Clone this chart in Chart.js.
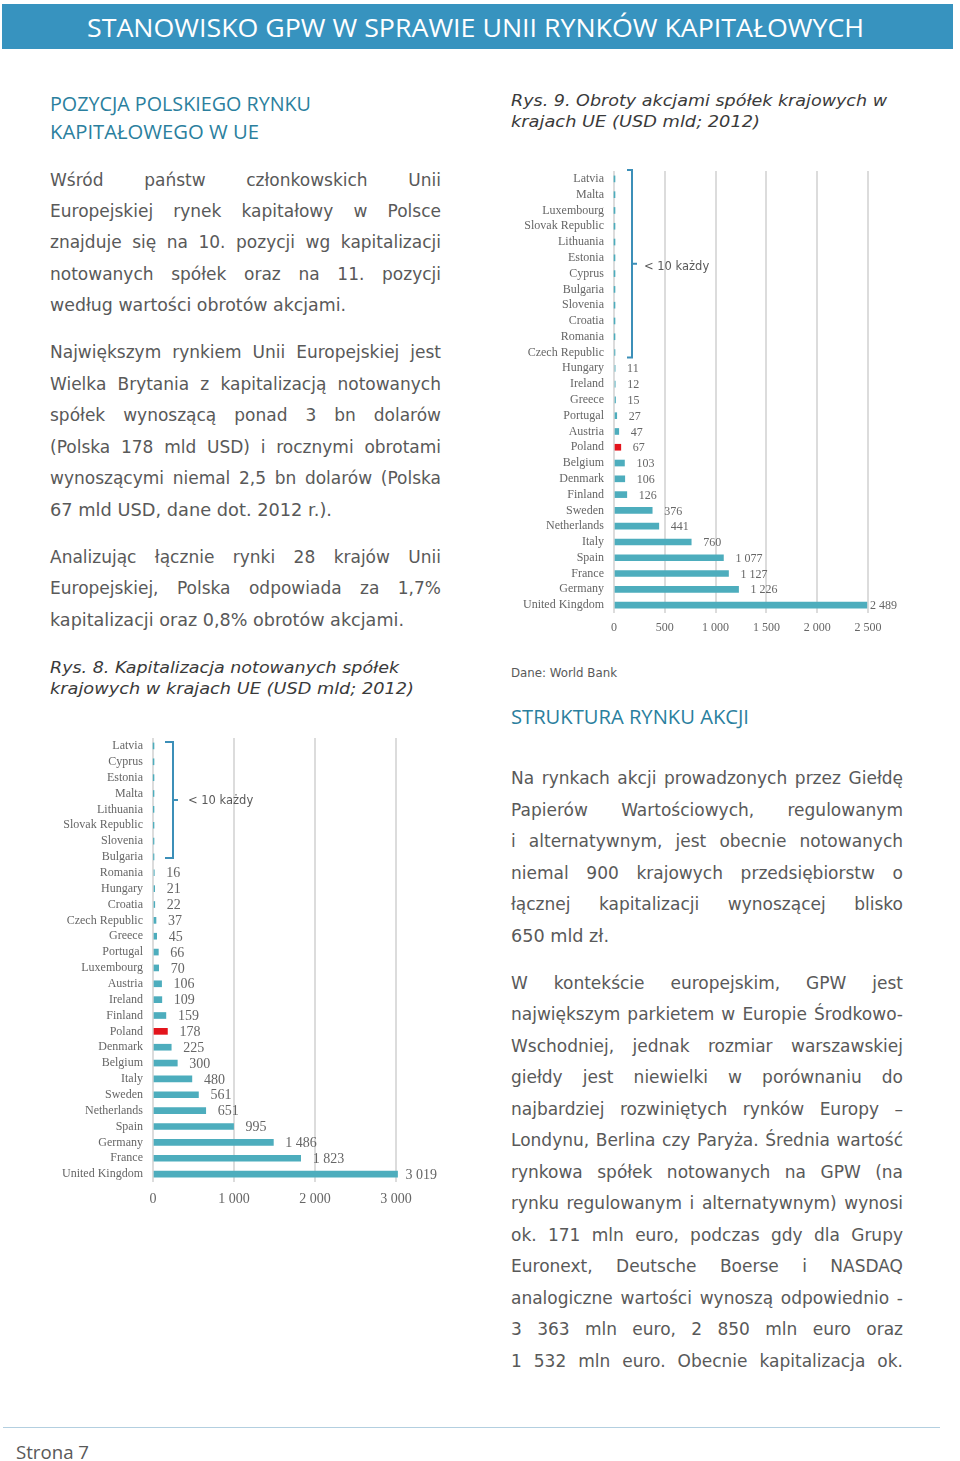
<!DOCTYPE html>
<html lang="pl">
<head>
<meta charset="utf-8">
<title>Stanowisko GPW</title>
<script src="https://cdn.jsdelivr.net/npm/chart.js@4/dist/chart.umd.min.js"></script>
<style>
  body { margin: 0; width: 960px; height: 1461px; position: relative; background: #fff; overflow: hidden; }
  .band { position: absolute; left: 2px; top: 4px; width: 951px; height: 45px; background: #3793bf; }
  .t { position: absolute; white-space: nowrap; line-height: 20px; height: 20px; transform-origin: 0 50%; }
  .title { font: 26px "Open Sans", sans-serif; color: #fff; line-height: 30px; height: 30px; }
  .head { font: 20px "Open Sans", sans-serif; color: #2b7f9e; }
  .body { font: 17px "DejaVu Sans", Verdana, sans-serif; color: #595959; }
  .cap { font: italic 16px "DejaVu Sans", Verdana, sans-serif; color: #3a3a3a; }
  .src { font: 12px "DejaVu Sans", Verdana, sans-serif; color: #595959; }
  .page { font: 18px "Open Sans", sans-serif; color: #595959; }
  .rule { position: absolute; left: 3px; top: 1427px; width: 937px; height: 0; border-top: 1.5px solid #b3cfe0; }
  canvas { position: absolute; }
  #chart9 { left: 515px; top: 165px; }
  #chart8 { left: 55px; top: 730px; }
</style>
</head>
<body>
<div class="band"></div>
<div class="rule"></div>
<canvas id="chart9" width="385" height="475"></canvas>
<canvas id="chart8" width="385" height="480"></canvas>

<script>
// --- data: Rys. 9, obroty akcjami (USD mld, 2012) ---
const turnoverCountries = ['Latvia', 'Malta', 'Luxembourg', 'Slovak Republic', 'Lithuania', 'Estonia',
  'Cyprus', 'Bulgaria', 'Slovenia', 'Croatia', 'Romania', 'Czech Republic', 'Hungary', 'Ireland',
  'Greece', 'Portugal', 'Austria', 'Poland', 'Belgium', 'Denmark', 'Finland', 'Sweden', 'Netherlands',
  'Italy', 'Spain', 'France', 'Germany', 'United Kingdom'];
const turnoverValues = [0.1, 0.1, 0.2, 0.3, 0.3, 0.4, 0.5, 0.6, 0.8, 1, 1.5, 6, 11, 12,
  15, 27, 47, 67, 103, 106, 126, 376, 441,
  760, 1077, 1127, 1226, 2489];
const turnoverTicks = [0, 500, 1000, 1500, 2000, 2500];

// --- data: Rys. 8, kapitalizacja (USD mld, 2012) ---
const capCountries = ['Latvia', 'Cyprus', 'Estonia', 'Malta', 'Lithuania', 'Slovak Republic', 'Slovenia',
  'Bulgaria', 'Romania', 'Hungary', 'Croatia', 'Czech Republic', 'Greece', 'Portugal', 'Luxembourg',
  'Austria', 'Ireland', 'Finland', 'Poland', 'Denmark', 'Belgium', 'Italy', 'Sweden', 'Netherlands',
  'Spain', 'Germany', 'France', 'United Kingdom'];
const capValues = [1, 2, 2.3, 3.5, 3.9, 4.6, 5.7, 6.7, 16, 21, 22, 37, 45, 66, 70,
  106, 109, 159, 178, 225, 300, 480, 561, 651,
  995, 1486, 1823, 3019];
const capTicks = [0, 1000, 2000, 3000];

const highlightCountry = 'Poland';
const TEAL = '#4dadbd';
const RED = '#e3141c';
const GRID = '#dcdcdc';
const LABEL = '#666666';

// --- page text ---
// [text, x, centre y, width, class, justify]
const lines = [
  ['STANOWISKO GPW W SPRAWIE UNII RYNKÓW KAPITAŁOWYCH', 87, 27, 777, 'title', false],
  ['POZYCJA POLSKIEGO RYNKU', 50, 100, 261, 'head', false],
  ['KAPITAŁOWEGO W UE', 50, 128, 209, 'head', false],

  ['Wśród państw członkowskich Unii', 50, 180, 391, 'body', true],
  ['Europejskiej rynek kapitałowy w Polsce', 50, 211, 391, 'body', true],
  ['znajduje się na 10. pozycji wg kapitalizacji', 50, 242, 391, 'body', true],
  ['notowanych spółek oraz na 11. pozycji', 50, 274, 391, 'body', true],
  ['według wartości obrotów akcjami.', 50, 305, 296, 'body', false],

  ['Największym rynkiem Unii Europejskiej jest', 50, 352, 391, 'body', true],
  ['Wielka Brytania z kapitalizacją notowanych', 50, 384, 391, 'body', true],
  ['spółek wynoszącą ponad 3 bn dolarów', 50, 415, 391, 'body', true],
  ['(Polska 178 mld USD) i rocznymi obrotami', 50, 447, 391, 'body', true],
  ['wynoszącymi niemal 2,5 bn dolarów (Polska', 50, 478, 391, 'body', true],
  ['67 mld USD, dane dot. 2012 r.).', 50, 510, 282, 'body', false],

  ['Analizując łącznie rynki 28 krajów Unii', 50, 557, 391, 'body', true],
  ['Europejskiej, Polska odpowiada za 1,7%', 50, 588, 391, 'body', true],
  ['kapitalizacji oraz 0,8% obrotów akcjami.', 50, 620, 354, 'body', false],

  ['Rys. 8. Kapitalizacja notowanych spółek', 50, 668, 349, 'cap', false],
  ['krajowych w krajach UE (USD mld; 2012)', 50, 689, 364, 'cap', false],

  ['Rys. 9. Obroty akcjami spółek krajowych w', 511, 101, 376, 'cap', false],
  ['krajach UE (USD mld; 2012)', 511, 122, 249, 'cap', false],

  ['Dane: World Bank', 511, 676, 106, 'src', false],
  ['STRUKTURA RYNKU AKCJI', 511, 713, 238, 'head', false],

  ['Na rynkach akcji prowadzonych przez Giełdę', 511, 778, 392, 'body', true],
  ['Papierów Wartościowych, regulowanym', 511, 810, 392, 'body', true],
  ['i alternatywnym, jest obecnie notowanych', 511, 841, 392, 'body', true],
  ['niemal 900 krajowych przedsiębiorstw o', 511, 873, 392, 'body', true],
  ['łącznej kapitalizacji wynoszącej blisko', 511, 904, 392, 'body', true],
  ['650 mld zł.', 511, 936, 98, 'body', false],

  ['W kontekście europejskim, GPW jest', 511, 983, 392, 'body', true],
  ['największym parkietem w Europie Środkowo-', 511, 1014, 392, 'body', true],
  ['Wschodniej, jednak rozmiar warszawskiej', 511, 1046, 392, 'body', true],
  ['giełdy jest niewielki w porównaniu do', 511, 1077, 392, 'body', true],
  ['najbardziej rozwiniętych rynków Europy –', 511, 1109, 392, 'body', true],
  ['Londynu, Berlina czy Paryża. Średnia wartość', 511, 1140, 392, 'body', true],
  ['rynkowa spółek notowanych na GPW (na', 511, 1172, 392, 'body', true],
  ['rynku regulowanym i alternatywnym) wynosi', 511, 1203, 392, 'body', true],
  ['ok. 171 mln euro, podczas gdy dla Grupy', 511, 1235, 392, 'body', true],
  ['Euronext, Deutsche Boerse i NASDAQ', 511, 1266, 392, 'body', true],
  ['analogiczne wartości wynoszą odpowiednio -', 511, 1298, 392, 'body', true],
  ['3 363 mln euro, 2 850 mln euro oraz', 511, 1329, 392, 'body', true],
  ['1 532 mln euro. Obecnie kapitalizacja ok.', 511, 1361, 392, 'body', true],

  ['Strona 7', 16, 1450, 73, 'page', false]
];

lines.forEach(([text, x, y, w, cls, justify]) => {
  const el = document.createElement('div');
  el.className = 't ' + cls;
  el.textContent = text;
  document.body.appendChild(el);
  const h = el.getBoundingClientRect().height;
  el.style.left = x + 'px';
  el.style.top = (y - h / 2) + 'px';
  const natural = el.getBoundingClientRect().width;
  const spaces = (text.match(/ /g) || []).length;
  if (justify && spaces > 0 && natural < w) {
    el.style.wordSpacing = ((w - natural) / spaces) + 'px';
  } else {
    el.style.transform = 'scaleX(' + (w / natural) + ')';
  }
});

// --- charts ---
const fmt = v => String(v).replace(/\B(?=(\d{3})+(?!\d))/g, ' ');

const valueLabels = {
  id: 'valueLabels',
  afterDatasetsDraw(chart, args, o) {
    const ctx = chart.ctx;
    const meta = chart.getDatasetMeta(0);
    ctx.save();
    ctx.font = o.font;
    ctx.fillStyle = LABEL;
    ctx.textBaseline = 'middle';
    meta.data.forEach((bar, i) => {
      const v = chart.data.datasets[0].data[i];
      if (v < 10) return;
      const txt = fmt(v);
      const w = ctx.measureText(txt).width;
      const x = Math.min(bar.x + 12, chart.width - 3 - w);
      ctx.fillText(txt, x, bar.y + 1);
    });
    ctx.restore();
  }
};

const bracket = {
  id: 'bracket',
  afterDraw(chart, args, o) {
    const ctx = chart.ctx;
    const labels = chart.data.labels;
    const ys = chart.scales.y;
    const x0 = chart.scales.x.getPixelForValue(0) + o.dx;
    const y1 = ys.getPixelForValue(labels.indexOf(o.from)) - o.padTop;
    const y2 = ys.getPixelForValue(labels.indexOf(o.to)) + o.padBottom;
    const ym = (y1 + y2) / 2;
    ctx.save();
    ctx.strokeStyle = '#3c8fb8';
    ctx.lineWidth = 2;
    ctx.beginPath();
    ctx.moveTo(x0 - o.hook, y1);
    ctx.lineTo(x0, y1);
    ctx.lineTo(x0, y2);
    ctx.lineTo(x0 - o.hook, y2);
    ctx.moveTo(x0, ym);
    ctx.lineTo(x0 + 5, ym);
    ctx.stroke();
    ctx.font = '11.5px "DejaVu Sans", sans-serif';
    ctx.fillStyle = '#595959';
    ctx.textBaseline = 'middle';
    ctx.fillText('< 10 każdy', x0 + o.textDx, ym + o.textDy);
    ctx.restore();
  }
};

function makeChart(id, labels, values, ticks, cfg) {
  const serif = '"Liberation Serif", "Times New Roman", serif';
  return new Chart(document.getElementById(id), {
    type: 'bar',
    data: {
      labels: labels,
      datasets: [{
        data: values,
        backgroundColor: labels.map(c => c === highlightCountry ? RED : TEAL),
        barThickness: 6,
        clip: false
      }]
    },
    options: {
      indexAxis: 'y',
      responsive: false,
      animation: false,
      layout: { padding: { top: cfg.top, right: cfg.right, left: 0, bottom: 0 } },
      plugins: {
        legend: { display: false },
        tooltip: { enabled: false },
        valueLabels: { font: cfg.valueFont + 'px ' + serif },
        bracket: cfg.bracket
      },
      scales: {
        x: {
          min: 0,
          max: ticks[ticks.length - 1],
          afterBuildTicks: s => { s.ticks = ticks.map(v => ({ value: v })); },
          afterFit: s => { s.height = cfg.xHeight; },
          grid: { color: GRID, lineWidth: 2, drawTicks: false },
          border: { display: false },
          ticks: {
            color: LABEL,
            padding: cfg.xPad,
            maxRotation: 0,
            font: { family: serif, size: cfg.xFont },
            callback: v => fmt(v)
          }
        },
        y: {
          afterFit: s => {
            s.width = cfg.yWidth;
            s.paddingTop = 0;
            s.paddingBottom = 0;
          },
          grid: { display: false, drawTicks: false },
          border: { display: false },
          ticks: {
            color: LABEL,
            padding: 10,
            autoSkip: false,
            font: { family: serif, size: 12 }
          }
        }
      }
    },
    plugins: [valueLabels, bracket]
  });
}

makeChart('chart9', turnoverCountries, turnoverValues, turnoverTicks, {
  top: 6, right: 32, yWidth: 99, xHeight: 27, xPad: 8, xFont: 12, valueFont: 12,
  bracket: { from: 'Latvia', to: 'Czech Republic', dx: 18, hook: 5, padTop: 9, padBottom: 5, textDx: 12, textDy: 3 }
});

makeChart('chart8', capCountries, capValues, capTicks, {
  top: 8, right: 44, yWidth: 98, xHeight: 28, xPad: 9, xFont: 14, valueFont: 14,
  bracket: { from: 'Latvia', to: 'Bulgaria', dx: 20, hook: 8, padTop: 4, padBottom: 1, textDx: 15, textDy: 1 }
});
</script>
</body>
</html>
